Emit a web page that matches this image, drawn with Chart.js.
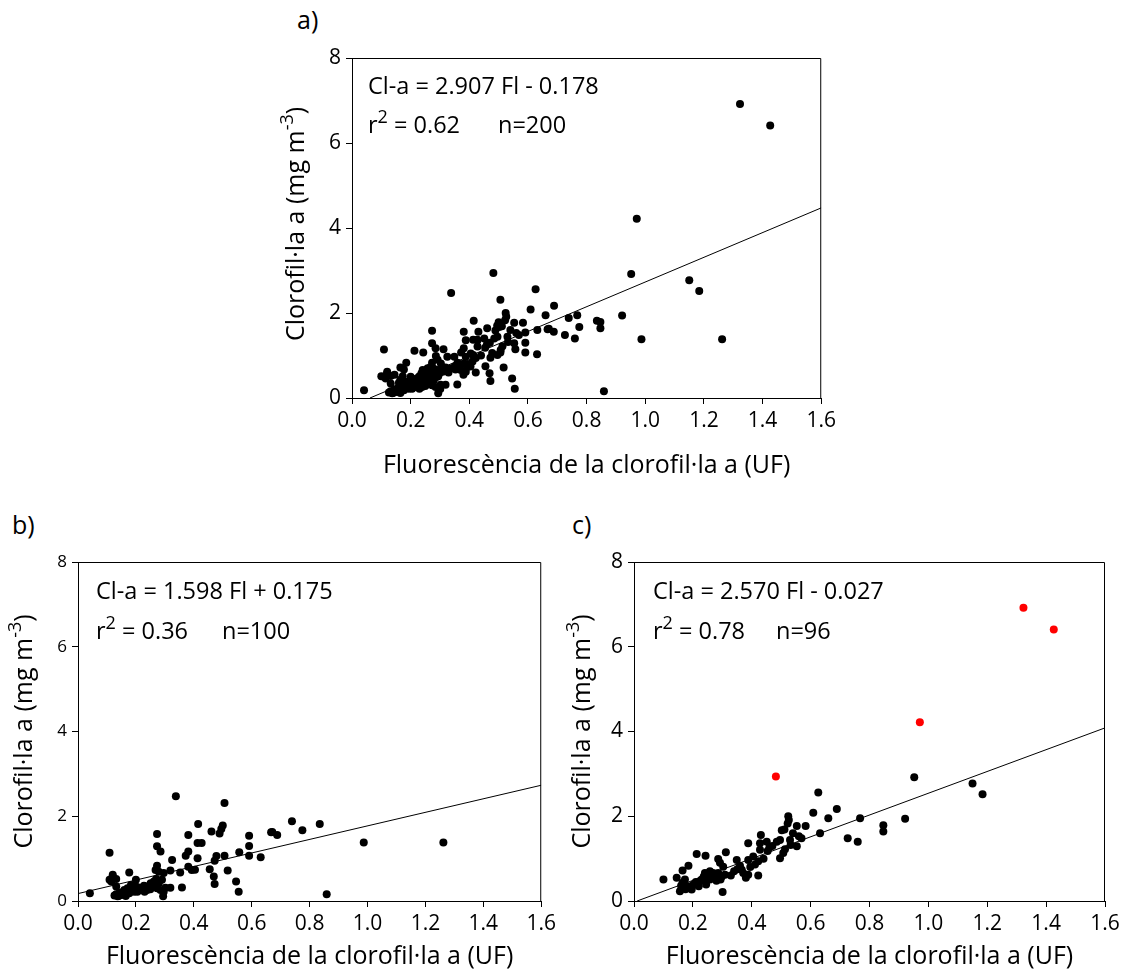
<!DOCTYPE html>
<html>
<head>
<meta charset="utf-8">
<script src="https://cdn.jsdelivr.net/npm/chart.js@4.4.0/dist/chart.umd.min.js"></script>
<style>
body { margin: 0; background: #fff; width: 1126px; height: 980px; position: relative; overflow: hidden; font-family: "Open Sans", sans-serif; }
canvas { position: absolute; }
.tag { position: absolute; font-size: 25px; line-height: 1; color: #000; }
</style>
</head>
<body>
<div class="tag" style="left:297px;top:7px">a)</div>
<div class="tag" style="left:12px;top:512px">b)</div>
<div class="tag" style="left:572px;top:512px">c)</div>
<canvas id="chart-a" width="590" height="490" style="left:250px;top:0px"></canvas>
<canvas id="chart-b" width="560" height="490" style="left:0px;top:490px"></canvas>
<canvas id="chart-c" width="566" height="490" style="left:560px;top:490px"></canvas>
<script>
/****************** DONNEES **********************/

var xTicks = [0, 0.2, 0.4, 0.6, 0.8, 1.0, 1.2, 1.4, 1.6];
var yTicks = [0, 2, 4, 6, 8];

// regressions: a) totes, b) primer grup, c) segon grup sense els punts vermells
var fitSlope = [2.907, 1.598, 2.570];
var fitIntercept = [-0.178, 0.175, -0.027];
var fitR2 = ['0.62', '0.36', '0.78'];
var fitN = [200, 100, 96];

// b) fluorescencia / clorofil·la
var fluorB = [0.338, 0.506, 0.415, 0.461, 0.500, 0.495, 0.489, 0.273, 0.381, 0.591,
              0.667, 0.427, 0.413, 0.273, 0.285, 0.109, 0.381, 0.372, 0.413, 0.478,
              0.472, 0.506, 0.557, 0.591, 0.591, 0.631, 0.325, 0.273, 0.268, 0.296,
              0.319, 0.353, 0.381, 0.393, 0.404, 0.455, 0.517, 0.469, 0.472, 0.546,
              0.555, 0.359, 0.671, 0.688, 0.739, 0.775, 0.835, 0.987, 1.262, 0.859,
              0.041, 0.109, 0.120, 0.132, 0.115, 0.120, 0.177, 0.200, 0.183, 0.143,
              0.137, 0.132, 0.126, 0.160, 0.177, 0.200, 0.222, 0.239, 0.262, 0.279,
              0.290, 0.296, 0.273, 0.205, 0.132, 0.171, 0.177, 0.194, 0.217, 0.239,
              0.251, 0.228, 0.294, 0.302, 0.319, 0.279, 0.160, 0.150, 0.165, 0.145,
              0.185, 0.210, 0.250, 0.265, 0.285, 0.140, 0.230, 0.270, 0.115, 0.155];
var chlB = [2.47, 2.31, 1.82, 1.64, 1.78, 1.70, 1.59, 1.58, 1.56, 1.54,
            1.62, 1.37, 1.37, 1.29, 1.17, 1.14, 1.17, 1.07, 1.01, 1.06,
            0.95, 1.07, 1.15, 1.30, 1.07, 1.03, 0.97, 0.83, 0.73, 0.66,
            0.72, 0.67, 0.81, 0.73, 0.74, 0.75, 0.72, 0.58, 0.40, 0.46,
            0.22, 0.32, 1.63, 1.56, 1.88, 1.67, 1.82, 1.38, 1.38, 0.16,
            0.18, 0.50, 0.62, 0.52, 0.46, 0.58, 0.67, 0.50, 0.38, 0.18,
            0.11, 0.16, 0.13, 0.26, 0.26, 0.34, 0.30, 0.34, 0.46, 0.42,
            0.50, 0.22, 0.30, 0.22, 0.34, 0.30, 0.18, 0.22, 0.26, 0.26,
            0.42, 0.36, 0.11, 0.31, 0.31, 0.69, 0.22, 0.14, 0.12, 0.20,
            0.28, 0.32, 0.28, 0.36, 0.26, 0.12, 0.22, 0.52, 0.52, 0.16];

// c) fluorescencia / clorofil·la
var fluorC = [0.952, 1.150, 1.184, 0.689, 0.660, 0.768, 0.921, 0.847, 0.847, 0.726,
              0.760, 0.632, 0.626, 0.609, 0.524, 0.526, 0.522, 0.553, 0.583, 0.502,
              0.511, 0.560, 0.569, 0.431, 0.530, 0.532, 0.553, 0.513, 0.507, 0.496,
              0.388, 0.428, 0.451, 0.485, 0.496, 0.454, 0.460, 0.428, 0.349, 0.388,
              0.405, 0.411, 0.422, 0.366, 0.388, 0.422, 0.100, 0.145, 0.165, 0.185,
              0.213, 0.243, 0.312, 0.286, 0.173, 0.168, 0.196, 0.213, 0.230, 0.241,
              0.258, 0.269, 0.247, 0.286, 0.298, 0.301, 0.360, 0.292, 0.303, 0.309,
              0.294, 0.156, 0.184, 0.202, 0.224, 0.237, 0.245, 0.258, 0.276, 0.329,
              0.351, 0.371, 0.380, 0.175, 0.165, 0.190, 0.210, 0.220, 0.265, 0.280,
              0.340, 0.395, 0.440, 0.470, 0.540, 0.160];
var chlC = [2.92, 2.77, 2.52, 2.17, 1.95, 1.95, 1.94, 1.79, 1.64, 1.48,
            1.40, 1.60, 2.56, 2.08, 2.00, 1.91, 1.83, 1.77, 1.77, 1.67,
            1.69, 1.53, 1.48, 1.56, 1.44, 1.32, 1.29, 1.22, 1.13, 1.01,
            1.36, 1.36, 1.40, 1.40, 1.44, 1.18, 1.26, 1.21, 0.97, 0.97,
            1.05, 0.86, 0.94, 0.74, 0.62, 0.60, 0.51, 0.55, 0.72, 0.83,
            1.11, 1.07, 1.15, 0.99, 0.51, 0.31, 0.27, 0.39, 0.51, 0.66,
            0.70, 0.66, 0.55, 0.66, 0.58, 0.21, 0.83, 0.90, 0.81, 0.62,
            0.51, 0.23, 0.35, 0.39, 0.47, 0.58, 0.39, 0.51, 0.55, 0.60,
            0.75, 0.66, 0.55, 0.28, 0.43, 0.30, 0.45, 0.35, 0.60, 0.48,
            0.70, 0.80, 1.00, 1.30, 1.60, 0.36];

// punts exclosos de la regressio c) (en vermell)
var fluorOut = [0.482, 0.971, 1.323, 1.426];
var chlOut = [2.94, 4.22, 6.92, 6.41];

/****************** FONCTION **********************/

Chart.defaults.font.family = '"Open Sans", sans-serif';
Chart.defaults.color = '#000';

function toPoints(xs, ys)
{
    return xs.map(function (v, i) { return {x: v, y: ys[i]}; });
}

function fitLine(k)
{
    var x0 = Math.max(0, -fitIntercept[k] / fitSlope[k]);
    return [x0, 1.6].map(function (v) {
        return {x: v, y: fitSlope[k] * v + fitIntercept[k]};
    });
}

function equation(k)
{
    var b = fitIntercept[k];
    return 'Cl-a = ' + fitSlope[k].toFixed(3) + ' Fl ' + (b < 0 ? '- ' : '+ ') + Math.abs(b).toFixed(3);
}

function font(size)
{
    return size + 'px "Open Sans"';
}

// cadre, titol Y i equacio
var framePlugin = {
    id: 'frame',
    afterDraw: function (chart, args, opts) {
        var a = chart.chartArea, c = chart.ctx;
        c.save();
        c.strokeStyle = '#000';
        c.lineWidth = 1;
        c.beginPath();
        c.moveTo(a.left, a.top + 0.5);
        c.lineTo(a.right - 0.5, a.top + 0.5);
        c.lineTo(a.right - 0.5, a.bottom);
        c.stroke();

        c.fillStyle = '#000';
        c.textBaseline = 'middle';
        c.textAlign = 'left';

        // titol eix Y amb superindex
        var fs = opts.titleFont, sup = Math.round(fs * 0.72);
        var t1 = 'Clorofil·la a (mg m', t2 = '-3', t3 = ')';
        c.font = font(fs);
        var w1 = c.measureText(t1).width, w3 = c.measureText(t3).width;
        c.font = font(sup);
        var w2 = c.measureText(t2).width;
        c.save();
        c.translate(opts.yTitleX, (a.top + a.bottom) / 2 + opts.yTitleDy);
        c.rotate(-Math.PI / 2);
        var x = -(w1 + w2 + w3) / 2;
        c.font = font(fs);
        c.fillText(t1, x, 0);
        c.font = font(sup);
        c.fillText(t2, x + w1, -fs * 0.38);
        c.font = font(fs);
        c.fillText(t3, x + w1 + w2, 0);
        c.restore();

        // equacio
        var k = opts.k, tx = a.left + opts.tx, y1 = a.top + opts.ty1, y2 = a.top + opts.ty2;
        var af = opts.fs, as = Math.round(af * 0.75);
        c.font = font(af);
        c.fillText(equation(k), tx, y1);
        c.fillText('r', tx, y2);
        var wr = c.measureText('r').width;
        c.font = font(as);
        c.fillText('2', tx + wr, y2 - af * 0.36);
        var ws = c.measureText('2').width;
        c.font = font(af);
        c.fillText(' = ' + fitR2[k], tx + wr + ws, y2);
        c.fillText('n=' + fitN[k], tx + opts.nx, y2);
        c.restore();
    }
};

function makePanel(id, black, red, k, box)
{
    var ctx = document.getElementById(id).getContext('2d');
    return new Chart(ctx, {
        type: 'scatter',
        data: {
            datasets: [{
                data: black,
                backgroundColor: '#000',
                borderColor: '#000',
                pointRadius: 4,
                pointBorderWidth: 0
            }, {
                data: red,
                backgroundColor: '#ff0000',
                borderColor: '#ff0000',
                pointRadius: 4,
                pointBorderWidth: 0
            }, {
                data: fitLine(k),
                showLine: true,
                borderColor: '#000',
                borderWidth: 1,
                pointRadius: 0
            }]
        },
        options: {
            responsive: false,
            animation: false,
            events: [],
            layout: { padding: { top: box.padTop, right: box.padRight, left: 0, bottom: 0 } },
            plugins: {
                legend: { display: false },
                tooltip: { enabled: false },
                frame: {
                    k: k, fs: box.annFont, tx: box.tx, ty1: box.ty1, ty2: box.ty2, nx: box.nx,
                    titleFont: box.titleFont, yTitleX: box.yTitleX, yTitleDy: box.yTitleDy
                }
            },
            scales: {
                x: {
                    type: 'linear',
                    min: 0,
                    max: 1.6,
                    afterBuildTicks: function (s) { s.ticks = xTicks.map(function (v) { return {value: v}; }); },
                    afterFit: function (s) { s.height = box.xh; },
                    ticks: {
                        callback: function (v) { return v.toFixed(1); },
                        font: { size: box.xTickFont },
                        color: '#000',
                        padding: 4,
                        maxRotation: 0,
                        autoSkip: false
                    },
                    grid: { drawOnChartArea: false, drawTicks: true, tickLength: 6, color: '#000' },
                    border: { color: '#000', width: 1 },
                    title: {
                        display: true,
                        text: 'Fluorescència de la clorofil·la a (UF)',
                        font: { size: box.titleFont },
                        color: '#000',
                        padding: { top: 0, bottom: box.xTitlePad }
                    }
                },
                y: {
                    type: 'linear',
                    min: 0,
                    max: 8,
                    afterBuildTicks: function (s) { s.ticks = yTicks.map(function (v) { return {value: v}; }); },
                    afterFit: function (s) { s.width = box.yw; },
                    ticks: {
                        callback: function (v) { return String(v); },
                        font: { size: box.yTickFont },
                        color: '#000',
                        padding: 5
                    },
                    grid: { drawOnChartArea: false, drawTicks: true, tickLength: 6, color: '#000' },
                    border: { color: '#000', width: 1 },
                    title: { display: false }
                }
            }
        },
        plugins: [framePlugin]
    });
}

var allBlack = toPoints(fluorB, chlB).concat(toPoints(fluorC, chlC), toPoints(fluorOut, chlOut));

makePanel('chart-a', allBlack, [], 0, {
    padTop: 58, padRight: 18, yw: 102, xh: 92,
    xTickFont: 21, yTickFont: 21, titleFont: 25, yTitleX: 47, yTitleDy: -4, xTitlePad: 9,
    annFont: 23.5, tx: 16, ty1: 29, ty2: 68, nx: 130
});

makePanel('chart-b', toPoints(fluorB, chlB), [], 1, {
    padTop: 72, padRight: 12, yw: 78, xh: 79,
    xTickFont: 21, yTickFont: 17, titleFont: 25, yTitleX: 25, yTitleDy: 0, xTitlePad: 8,
    annFont: 23.5, tx: 18, ty1: 30, ty2: 70, nx: 126
});

makePanel('chart-c', toPoints(fluorC, chlC), toPoints(fluorOut, chlOut), 2, {
    padTop: 72, padRight: 21, yw: 74, xh: 79,
    xTickFont: 21, yTickFont: 21, titleFont: 25, yTitleX: 23, yTitleDy: 0, xTitlePad: 8,
    annFont: 23.5, tx: 19, ty1: 30, ty2: 70, nx: 123
});
</script>
</body>
</html>
